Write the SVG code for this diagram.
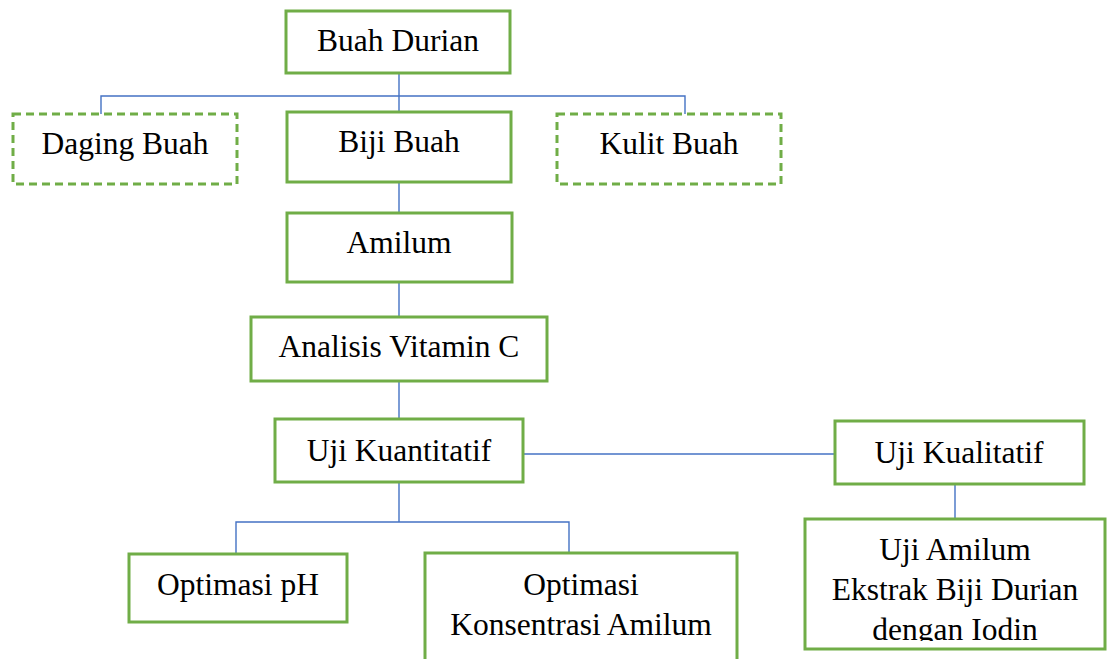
<svg xmlns="http://www.w3.org/2000/svg" width="1108" height="659" viewBox="0 0 1108 659">
<defs>
<style>
.box{fill:#fff;stroke:#70AD47;stroke-width:3}
.dash{fill:#fff;stroke:#70AD47;stroke-width:3;stroke-dasharray:8 5}
.con{fill:none;stroke:#4472C4;stroke-width:1.4}
text{font-family:"Liberation Serif","Times New Roman",serif;font-size:31.5px;fill:#000;text-anchor:middle}
</style>
<clipPath id="clipAmilum"><rect x="805" y="519" width="300" height="122"/></clipPath>
</defs>
<rect width="1108" height="659" fill="#fff"/>
<g id="connectors">
<line class="con" x1="399" y1="73" x2="399" y2="112"/>
<polyline class="con" points="101,114 101,96 685,96 685,114"/>
<line class="con" x1="399" y1="182" x2="399" y2="213"/>
<line class="con" x1="399" y1="282" x2="399" y2="317"/>
<line class="con" x1="399" y1="381" x2="399" y2="419"/>
<line class="con" x1="523" y1="454" x2="835" y2="454"/>
<line class="con" x1="955" y1="484" x2="955" y2="519"/>
<line class="con" x1="399" y1="482" x2="399" y2="522"/>
<polyline class="con" points="236,554 236,522 569,522 569,553"/>
</g>
<g id="buah-durian"><rect class="box" x="286" y="11" width="224" height="62"/><text x="398" y="51">Buah Durian</text></g>
<g id="daging-buah"><rect class="dash" x="13" y="114" width="224" height="70"/><text x="125" y="154">Daging Buah</text></g>
<g id="biji-buah"><rect class="box" x="287" y="112" width="224" height="70"/><text x="399" y="152">Biji Buah</text></g>
<g id="kulit-buah"><rect class="dash" x="557" y="114" width="224" height="70"/><text x="669" y="154">Kulit Buah</text></g>
<g id="amilum"><rect class="box" x="287" y="213" width="225" height="69"/><text x="399" y="253">Amilum</text></g>
<g id="analisis"><rect class="box" x="251" y="317" width="296" height="64"/><text x="399" y="357">Analisis Vitamin C</text></g>
<g id="uji-kuantitatif"><rect class="box" x="275" y="419" width="248" height="63"/><text x="399" y="461">Uji Kuantitatif</text></g>
<g id="uji-kualitatif"><rect class="box" x="835" y="421" width="249" height="63"/><text x="959" y="463">Uji Kualitatif</text></g>
<g id="uji-amilum"><rect class="box" x="805" y="519" width="300" height="130"/>
<g clip-path="url(#clipAmilum)"><text x="955" y="560">Uji Amilum</text><text x="955" y="600">Ekstrak Biji Durian</text><text x="955" y="640">dengan Iodin</text></g></g>
<g id="optimasi-ph"><rect class="box" x="129" y="554" width="218" height="68"/><text x="238" y="595">Optimasi pH</text></g>
<g id="optimasi-konsentrasi"><rect class="box" x="425" y="553" width="312" height="120"/><text x="581" y="595">Optimasi</text><text x="581" y="635">Konsentrasi Amilum</text></g>
</svg>
